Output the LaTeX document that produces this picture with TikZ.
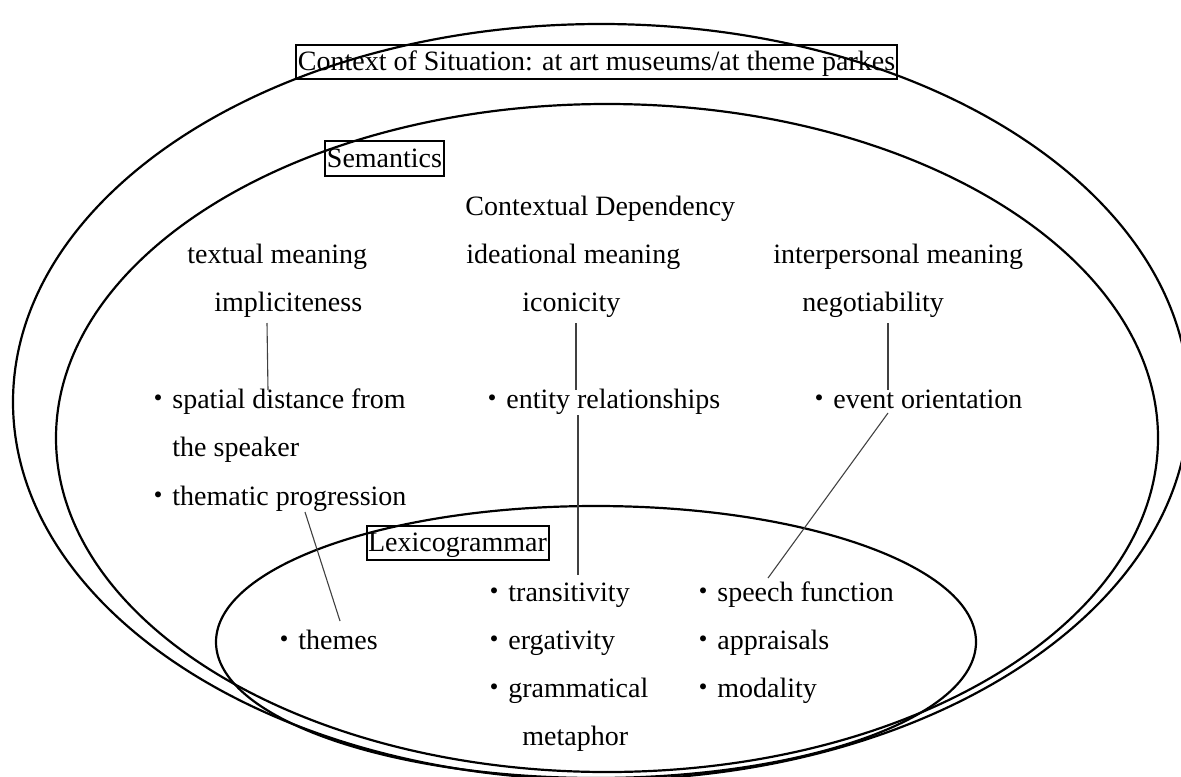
\documentclass[tikz,border=0pt]{standalone}
\usepackage{fontspec}
\setmainfont{Liberation Serif}
\newfontfamily\jpfont{Noto Sans CJK JP}
\newcommand{\dotmark}{{\jpfont ・}}
\begin{document}
\begin{tikzpicture}[x=0.5pt,y=-0.5pt,
  every node/.style={font=\fontsize{14pt}{17pt}\selectfont},
  txt/.style={anchor=base west, inner sep=0pt},
  labelbox/.style={draw, line width=1pt, inner xsep=0.8pt, inner ysep=1pt,
    text height=12pt, text depth=3.2pt},
  ring/.style={line width=1.1pt},
  link/.style={line width=0.55pt, black!75}]
\useasboundingbox (0,0) rectangle (1181,776);

% nested regions: context, semantics, lexicogrammar
\begin{scope}
\clip (0,0) rectangle (1181,776);
\draw[ring] (601,402) ellipse [x radius=588, y radius=378];
\draw[ring] (607,438) ellipse [x radius=551, y radius=334];
\draw[ring] (596,642) ellipse [x radius=380, y radius=136];
\end{scope}

% titles of the three strata
\node[labelbox] (ctx) at (596.5,62) {Context of Situation: at art museums/at theme parkes};
\node[labelbox] (sem) at (384.5,158.5) {Semantics};
\node[labelbox] (lex) at (457.5,543) {Lexicogrammar};

% semantics
\node[txt] (dep)  at (465,215) {Contextual Dependency};
\node[txt] (tm)   at (187,263) {textual meaning};
\node[txt] (im)   at (466,263) {ideational meaning};
\node[txt] (ipm)  at (773,263) {interpersonal meaning};
\node[txt] (impl) at (214,311) {impliciteness};
\node[txt] (icon) at (522,311) {iconicity};
\node[txt] (nego) at (802,311) {negotiability};
\node[txt] (spat) at (144,408) {\dotmark spatial distance from};
\node[txt] (spk)  at (172,456) {the speaker};
\node[txt] (thpr) at (144,505) {\dotmark thematic progression};
\node[txt] (ent)  at (478,408) {\dotmark entity relationships};
\node[txt] (evt)  at (805,408) {\dotmark event orientation};

% lexicogrammar
\node[txt] (thm)  at (270,649) {\dotmark themes};
\node[txt] (trn)  at (480,601) {\dotmark transitivity};
\node[txt] (erg)  at (480,649) {\dotmark ergativity};
\node[txt] (gram) at (480,697) {\dotmark grammatical};
\node[txt] (meta) at (522,745) {metaphor};
\node[txt] (spf)  at (689,601) {\dotmark speech function};
\node[txt] (appr) at (689,649) {\dotmark appraisals};
\node[txt] (moda) at (689,697) {\dotmark modality};

% connector end points
\coordinate (implA) at (267,323);
\coordinate (implB) at (268,390);
\coordinate (iconA) at (576,323);
\coordinate (iconB) at (576,390);
\coordinate (entA)  at (578,415);
\coordinate (entB)  at (578,575);
\coordinate (negoA) at (888,323);
\coordinate (negoB) at (888,390);
\coordinate (thA)   at (305,512);
\coordinate (thB)   at (340,621);
\coordinate (evA)   at (888,413);
\coordinate (evB)   at (768,578);

\draw[link] (implA) -- (implB);
\draw[link] (iconA) -- (iconB);
\draw[link] (entA) -- (entB);
\draw[link] (negoA) -- (negoB);
\draw[link] (thA) -- (thB);
\draw[link] (evA) -- (evB);
\end{tikzpicture}
\end{document}
